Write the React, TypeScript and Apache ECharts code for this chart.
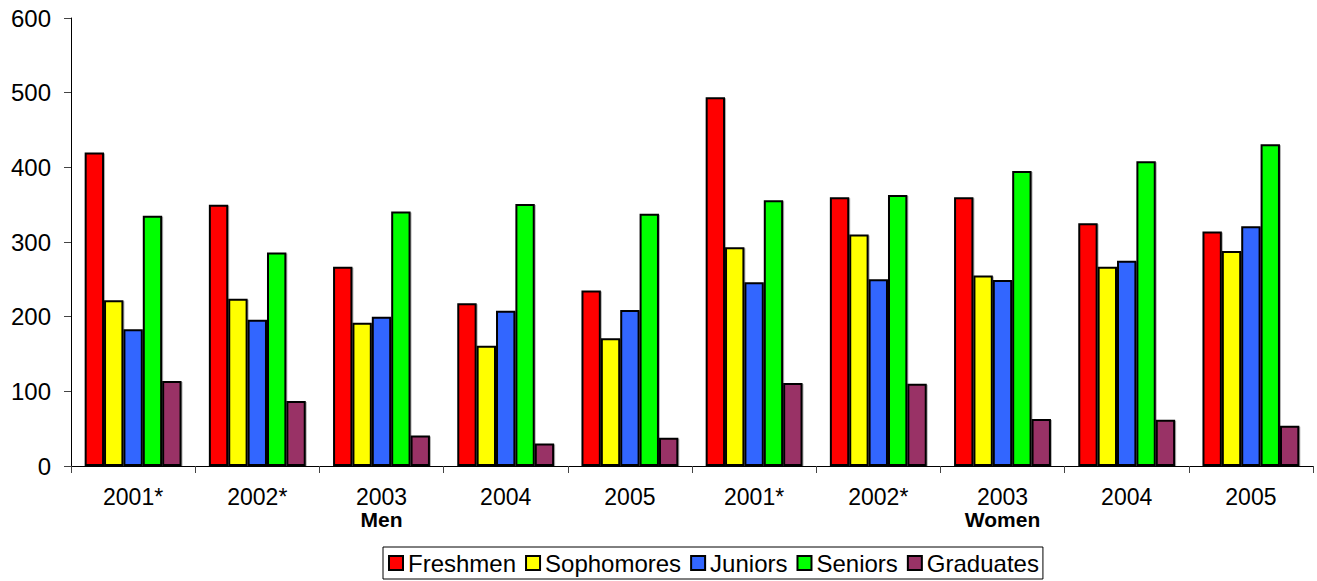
import React, { useEffect, useRef } from "react";
import * as echarts from "echarts";

const categoryKeys = ["M2001", "M2002", "M2003", "M2004", "M2005", "W2001", "W2002", "W2003", "W2004", "W2005"];
const tickLabels = ["2001*", "2002*", "2003", "2004", "2005", "2001*", "2002*", "2003", "2004", "2005"];
const groupLabels = ["", "", "Men", "", "", "", "", "Women", "", ""];

const freshmen = [420, 350, 267, 218, 235, 494, 360, 360, 325, 314];
const sophomores = [222, 224, 192, 161, 171, 293, 310, 255, 267, 288];
const juniors = [183, 196, 200, 208, 209, 246, 250, 249, 275, 321];
const seniors = [335, 286, 341, 351, 338, 356, 363, 395, 408, 431];
const graduates = [114, 87, 41, 30, 38, 111, 110, 63, 62, 54];

const seriesDefs = [
  { name: "Freshmen", data: freshmen, color: "#FF0000" },
  { name: "Sophomores", data: sophomores, color: "#FFFF00" },
  { name: "Juniors", data: juniors, color: "#3366FF" },
  { name: "Seniors", data: seniors, color: "#00FF00" },
  { name: "Graduates", data: graduates, color: "#993366" },
];

const FONT = "'Liberation Sans', Arial, sans-serif";

export default function App() {
  const ref = useRef<HTMLDivElement>(null);
  useEffect(() => {
    if (!ref.current) return;
    const chart = echarts.init(ref.current, undefined, { renderer: "svg" });
    chart.setOption({
      animation: false,
      backgroundColor: "#FFFFFF",
      textStyle: { fontFamily: FONT, color: "#000" },
      grid: { left: 71, right: 4, top: 18, bottom: 115, containLabel: false },
      legend: {
        left: 383,
        top: 547,
        orient: "horizontal",
        itemWidth: 14,
        itemHeight: 14,
        itemGap: 9,
        padding: [4, 4, 4, 5],
        borderColor: "#000",
        borderWidth: 1,
        icon: "rect",
        textStyle: { fontFamily: FONT, fontSize: 24, color: "#000" },
        data: seriesDefs.map((s) => s.name),
      },
      xAxis: {
        type: "category",
        data: categoryKeys,
        axisLine: { lineStyle: { color: "#000", width: 1 } },
        axisTick: { show: true, length: 7, lineStyle: { color: "#444" } },
        axisLabel: {
          interval: 0,
          margin: 20,
          formatter: (_v: string, i: number) =>
            groupLabels[i] ? `{y|${tickLabels[i]}}\n{g|${groupLabels[i]}}` : `{y|${tickLabels[i]}}`,
          rich: {
            y: { fontFamily: FONT, fontSize: 23, color: "#000", lineHeight: 22 },
            g: { fontFamily: FONT, fontSize: 21, fontWeight: "bold", color: "#000", lineHeight: 22 },
          },
        },
        splitLine: { show: false },
      },
      yAxis: {
        type: "value",
        min: 0,
        max: 600,
        interval: 100,
        axisLine: { show: true, lineStyle: { color: "#000", width: 1 } },
        axisTick: { show: true, length: 7, lineStyle: { color: "#444" } },
        axisLabel: { margin: 20, fontFamily: FONT, fontSize: 24, color: "#000" },
        splitLine: { show: false },
      },
      series: seriesDefs.map((s) => ({
        name: s.name,
        type: "bar",
        data: s.data,
        barGap: "0%",
        barCategoryGap: "22%",
        itemStyle: {
          color: s.color,
          borderColor: "#000",
          borderWidth: 2,
          shadowColor: "rgba(0,0,0,0.3)",
          shadowOffsetX: 1,
          shadowOffsetY: 1,
          shadowBlur: 1,
        },
      })),
    });
    return () => chart.dispose();
  }, []);
  return (
    <div
      ref={ref}
      style={{ position: "fixed", left: 0, top: 0, width: 1317, height: 581, background: "#fff" }}
    />
  );
}
